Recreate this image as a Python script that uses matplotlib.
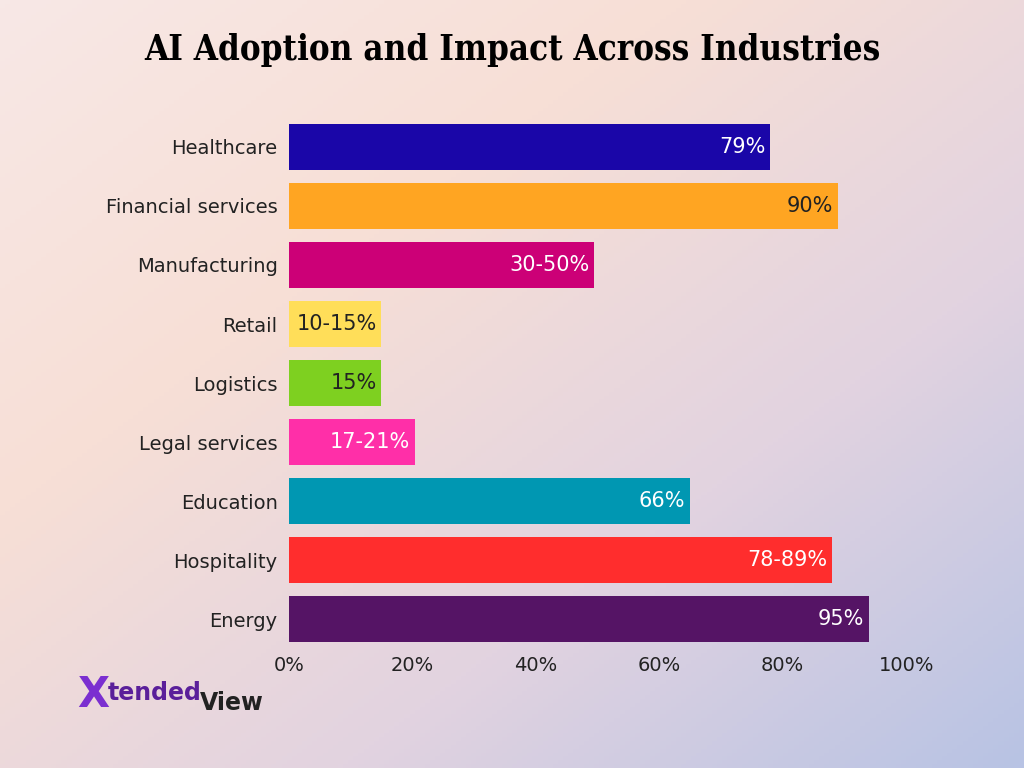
import matplotlib.pyplot as plt
import numpy as np
from matplotlib.colors import LinearSegmentedColormap

industries = ["Healthcare", "Financial services", "Manufacturing", "Retail", "Logistics",
              "Legal services", "Education", "Hospitality", "Energy"]
values = [78, 89, 49.5, 15, 15, 20.5, 65, 88, 94]
labels = ["79%", "90%", "30-50%", "10-15%", "15%", "17-21%", "66%", "78-89%", "95%"]
colors = ["#1a06a8", "#ffa522", "#cc0077", "#ffde59", "#7ed020", "#ff2fa8", "#0097b2", "#ff2d2d", "#551465"]
label_colors = ["white", "#222222", "white", "#222222", "#222222", "white", "white", "white", "white"]

fig = plt.figure(figsize=(10.24, 7.68), dpi=100)

# background gradient
bg = fig.add_axes([0, 0, 1, 1])
xx, yy = np.meshgrid(np.linspace(0, 1, 200), np.linspace(0, 1, 200))
t = (xx * 0.6 + yy * 0.6) / 1.2
cmap = LinearSegmentedColormap.from_list("bg", ["#f7e8e6", "#f7dfd6", "#e2d3e0", "#b8c3e4"])
bg.imshow(t, cmap=cmap, extent=[0, 1, 0, 1], origin="upper", aspect="auto")
bg.axis("off")

ax = fig.add_axes([0.282, 0.155, 0.603, 0.70])
ax.set_facecolor("none")
y = np.arange(len(industries))
ax.barh(y, values, height=0.78, color=colors)
for i in range(len(values)):
    ax.text(values[i] - 0.8, y[i], labels[i], ha="right", va="center",
            fontsize=15, color=label_colors[i])
ax.set_yticks(y)
ax.set_yticklabels(industries, fontsize=14, color="#222222")
ax.invert_yaxis()
ax.set_xlim(0, 100)
ax.set_ylim(len(industries) - 0.5, -0.6)
ax.set_xticks(range(0, 101, 20))
ax.set_xticklabels([f"{v}%" for v in range(0, 101, 20)], fontsize=14, color="#222222")
ax.tick_params(length=0, pad=8)
ax.tick_params(axis="x", pad=5)
for s in ax.spines.values():
    s.set_visible(False)

fig.text(0.5, 0.935, "AI Adoption and Impact Across Industries", ha="center", va="center",
         fontsize=25, fontweight="bold", family="DejaVu Serif", fontstretch="condensed",
         color="black")

# logo
fig.text(0.075, 0.095, "X", fontsize=30, fontweight="bold", color="#7b2fd0", va="center")
fig.text(0.105, 0.098, "tended", fontsize=17, fontweight="bold", color="#5a1f9a", va="center")
fig.text(0.195, 0.085, "View", fontsize=17, fontweight="bold", color="#222222", va="center")

fig.savefig("out.png", dpi=100)
